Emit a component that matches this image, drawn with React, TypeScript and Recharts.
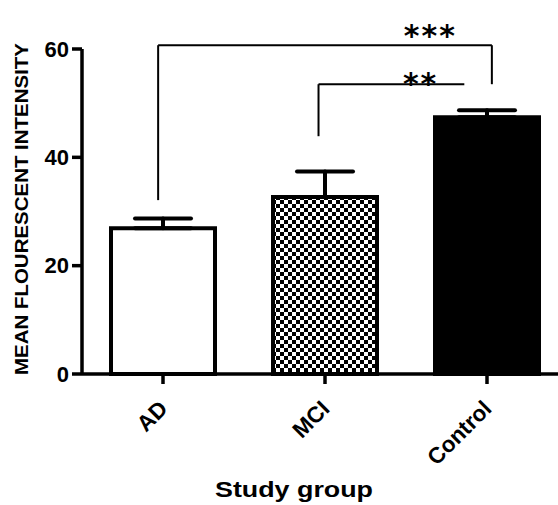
import { BarChart, Bar, XAxis, YAxis, Cell, ErrorBar, ReferenceLine, ReferenceDot } from "recharts";

const groups = ["AD", "MCI", "Control"];
const means = [26.9, 32.7, 47.4];
const sems = [1.8, 4.7, 1.3];
const yTicks = [0, 20, 40, 60];

// significance brackets: x in group-index units (0 = AD centre), y in data units
const bracketLabels = ["***", "**"];
const bracketX1 = [-0.03, 0.96];
const bracketX2 = [2.03, 1.86];
const bracketY = [60.7, 53.5];
const bracketLeftDrop = [32.1, 43.9];
const bracketRightDrop: (number | null)[] = [53.5, null];
const starX = [1.65, 1.59];
const starTop = [65.0, 56.1];

const fills = ["#ffffff", "url(#checker)", "#000000"];

const data = groups.map((g, i) => ({ group: g, pos: i, mean: means[i], err: [0, sems[i]] }));

const FONT = "'Liberation Sans', Arial, Helvetica, sans-serif";

function GroupTick(props: any) {
  const { x, payload } = props;
  return (
    <g transform={`translate(${x + 6},410)`}>
      <text transform="rotate(-45)" textAnchor="end" fontFamily={FONT} fontWeight="bold" fontSize={22.5} fill="#000">
        {payload.value}
      </text>
    </g>
  );
}

function Stars(label: string) {
  return (p: any) => (
    <text x={p.cx} y={p.cy + 24} textAnchor="middle" fontFamily="'DejaVu Sans', sans-serif" fontWeight="bold" fontSize={30} fill="#000" letterSpacing={2}>
      {label}
    </text>
  );
}

export default function App() {
  return (
    <div style={{ position: "fixed", left: 0, top: 0, width: 558, height: 505, overflow: "hidden", background: "#fff" }}>
      <svg width={0} height={0} style={{ position: "absolute" }}>
        <defs>
          <pattern id="checker" width={8} height={8} patternUnits="userSpaceOnUse">
            <rect width={8} height={8} fill="#fff" />
            <rect width={4} height={4} fill="#000" />
            <rect x={4} y={4} width={4} height={4} fill="#000" />
          </pattern>
        </defs>
      </svg>
      <BarChart width={568} height={505} data={data} margin={{ top: 49, right: 0, bottom: 0, left: 0 }} barSize={104}>
        <XAxis
          xAxisId="cat"
          dataKey="group"
          height={131}
          axisLine={{ stroke: "#000", strokeWidth: 3.5 }}
          tickLine={{ stroke: "#000", strokeWidth: 3.5 }}
          tickSize={10}
          tick={<GroupTick />}
          interval={0}
          label={({ viewBox }: any) => (
            <text x={viewBox.x + 212} y={viewBox.y + 123} textAnchor="middle" fontFamily={FONT} fontWeight="bold" fontSize={22} textLength={158} lengthAdjust="spacingAndGlyphs" fill="#000">
              Study group
            </text>
          )}
        />
        <XAxis xAxisId="num" dataKey="pos" type="number" domain={[-0.5, 2.5]} allowDataOverflow hide height={0} />
        <YAxis
          width={82}
          domain={[0, 60]}
          ticks={yTicks}
          interval={0}
          axisLine={{ stroke: "#000", strokeWidth: 3.5 }}
          tickLine={{ stroke: "#000", strokeWidth: 3.5 }}
          tickSize={10}
          tickMargin={3}
          tick={{ fontFamily: FONT, fontWeight: "bold", fontSize: 22, fill: "#000" }}
          label={({ viewBox }: any) => (
            <text
              x={viewBox.x + 28}
              y={viewBox.y + 160}
              transform={`rotate(-90 ${viewBox.x + 28} ${viewBox.y + 160})`}
              textAnchor="middle"
              fontFamily={FONT}
              fontWeight="bold"
              fontSize={18}
              textLength={332}
              lengthAdjust="spacingAndGlyphs"
              fill="#000"
            >
              MEAN FLOURESCENT INTENSITY
            </text>
          )}
        />
        <Bar xAxisId="cat" dataKey="mean" stroke="#000" strokeWidth={4} isAnimationActive={false}>
          {data.map((d, i) => (
            <Cell key={d.group} fill={fills[i]} />
          ))}
          <ErrorBar dataKey="err" direction="y" width={28} stroke="#000" strokeWidth={4} strokeLinecap="round" isAnimationActive={false} />
        </Bar>
        {bracketLabels.map((lab, i) => (
          <ReferenceLine
            key={`h${i}`}
            xAxisId="num"
            ifOverflow="visible"
            segment={[{ x: bracketX1[i], y: bracketY[i] }, { x: bracketX2[i], y: bracketY[i] }]}
            stroke="#000"
            strokeWidth={2}
          />
        ))}
        {bracketLabels.map((lab, i) => (
          <ReferenceLine
            key={`l${i}`}
            xAxisId="num"
            ifOverflow="visible"
            segment={[{ x: bracketX1[i], y: bracketY[i] }, { x: bracketX1[i], y: bracketLeftDrop[i] }]}
            stroke="#000"
            strokeWidth={2}
          />
        ))}
        {bracketLabels.map((lab, i) =>
          bracketRightDrop[i] === null ? null : (
            <ReferenceLine
              key={`r${i}`}
              xAxisId="num"
              ifOverflow="visible"
              segment={[{ x: bracketX2[i], y: bracketY[i] }, { x: bracketX2[i], y: bracketRightDrop[i] as number }]}
              stroke="#000"
              strokeWidth={2}
            />
          )
        )}
        {bracketLabels.map((lab, i) => (
          <ReferenceDot key={`s${i}`} xAxisId="num" x={starX[i]} y={starTop[i]} r={0} ifOverflow="visible" shape={Stars(lab)} />
        ))}
      </BarChart>
    </div>
  );
}
